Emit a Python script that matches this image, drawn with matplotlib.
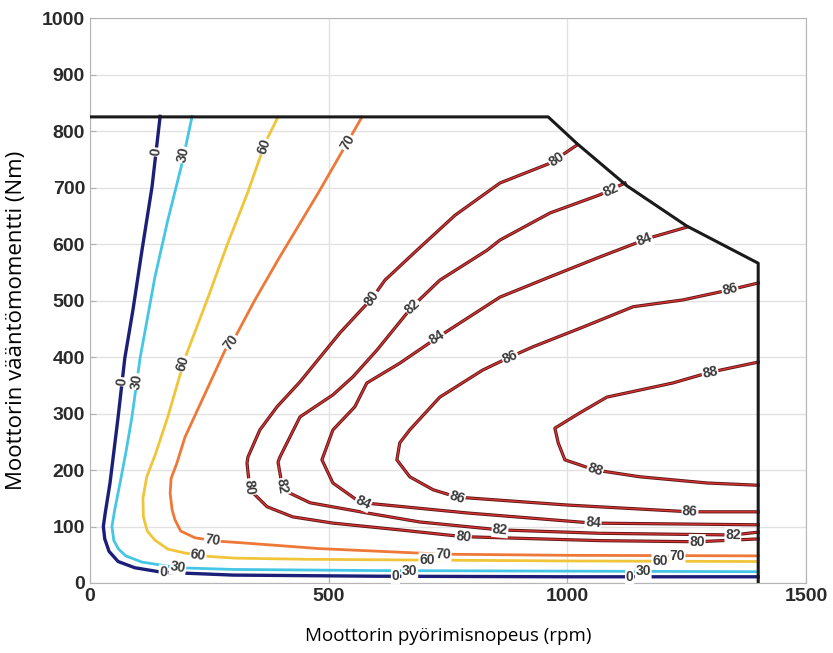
import numpy as np
import matplotlib.pyplot as plt

# operating limit (rpm, Nm)
limit_rpm = [0, 960, 1020, 1125, 1250, 1400, 1400]
limit_nm = [825, 825, 778, 703, 632, 566, 0]

# efficiency contour lines (rpm, Nm)
c0_rpm = [147, 130, 109, 90, 73, 59, 42, 32, 28, 31, 40, 59, 94, 151, 300, 600, 1000, 1400]
c0_nm = [826, 701, 589, 483, 398, 294, 177, 124, 100, 78, 56, 38, 27, 19, 14, 12, 11, 11]

c30_rpm = [214, 193, 163, 136, 105, 88, 75, 63, 52, 46, 50, 60, 75, 109, 184, 300, 600, 1000, 1400]
c30_nm = [826, 743, 642, 541, 398, 294, 230, 177, 130, 100, 75, 60, 48, 37, 27, 24, 22, 21, 20]

c60_rpm = [394, 367, 330, 289, 245, 199, 163, 138, 119, 111, 112, 120, 136, 163, 199, 250, 304,
           450, 618, 1000, 1400]
c60_nm = [825, 779, 690, 602, 500, 398, 294, 230, 188, 150, 117, 92, 76, 60, 53, 47, 44,
          42, 41, 39, 38]

c70_rpm = [570, 478, 394, 345, 304, 283, 235, 199, 182, 170, 168, 172, 178, 190, 220, 268, 304,
           400, 478, 740, 1000, 1400]
c70_nm = [825, 690, 572, 500, 435, 412, 324, 258, 212, 185, 159, 130, 112, 92, 80, 74, 72,
          66, 61, 51, 49, 48]

c80_rpm = [1020, 964, 859, 765, 685, 618, 591, 524, 440, 392, 356, 331, 329, 335, 371,
           425, 509, 649, 782, 1068, 1272, 1400]
c80_nm = [775, 743, 708, 651, 589, 536, 504, 443, 356, 312, 271, 223, 212, 165, 135,
          117, 106, 94, 82, 75, 73, 78]

c82_rpm = [1121, 1068, 964, 859, 832, 733, 675, 601, 551, 509, 440, 398, 394, 404, 461,
           580, 691, 859, 1068, 1347, 1400]
c82_nm = [708, 687, 655, 607, 589, 536, 489, 412, 365, 333, 294, 223, 214, 165, 142,
          124, 108, 94, 88, 85, 90]

c84_rpm = [1251, 1173, 1068, 964, 859, 727, 649, 580, 555, 509, 486, 509, 559, 572, 790,
           1054, 1400]
c84_nm = [630, 611, 577, 542, 506, 434, 389, 354, 312, 271, 218, 177, 147, 142, 124,
          106, 103]

c86_rpm = [1400, 1341, 1242, 1138, 1033, 928, 880, 823, 733, 670, 649, 643, 670, 719, 769,
           1000, 1257, 1400]
c86_nm = [531, 519, 501, 489, 453, 418, 400, 377, 329, 271, 248, 218, 188, 165, 152,
          138, 126, 126]

c88_rpm = [1400, 1299, 1221, 1083, 1026, 974, 981, 995, 1058, 1152, 1293, 1400]
c88_nm = [391, 373, 354, 329, 301, 274, 248, 218, 200, 188, 177, 173]

# label positions (approximate, snapped onto line)
lab0 = [(136, 763), (69, 356), (153, 11), (640, 12), (1131, 11)]
lab30 = [(199, 757), (101, 356), (184, 27), (670, 22), (1159, 20)]
lab60 = [(373, 770), (203, 386), (226, 46), (706, 41), (1194, 39)]
lab70 = [(541, 779), (298, 425), (256, 73), (740, 51), (1230, 49)]
lab80 = [(981, 745), (591, 504), (331, 170), (782, 82), (1272, 73)]
lab82 = [(1094, 690), (675, 490), (396, 170), (859, 94), (1347, 85)]
lab84 = [(1163, 604), (727, 434), (572, 142), (1054, 106)]
lab86 = [(1341, 519), (880, 400), (769, 152), (1257, 126)]
lab88 = [(1299, 373), (1058, 200)]

red = '#8e1c1c'
contours = [
    ('0', c0_rpm, c0_nm, '#1c1f78', lab0),
    ('30', c30_rpm, c30_nm, '#45c6e4', lab30),
    ('60', c60_rpm, c60_nm, '#f0c53a', lab60),
    ('70', c70_rpm, c70_nm, '#ee7838', lab70),
    ('80', c80_rpm, c80_nm, red, lab80),
    ('82', c82_rpm, c82_nm, red, lab82),
    ('84', c84_rpm, c84_nm, red, lab84),
    ('86', c86_rpm, c86_nm, red, lab86),
    ('88', c88_rpm, c88_nm, red, lab88),
]

fig = plt.figure(figsize=(8.33, 6.53), dpi=100)
ax = fig.add_axes([0.108, 0.1072, 0.8595, 0.8652])
ax.set_xlim(0, 1500)
ax.set_ylim(0, 1000)
ax.set_xticks([0, 500, 1000, 1500])
ax.set_yticks(range(0, 1001, 100))
ax.grid(True, color='#e2e2e2', lw=1)
ax.set_axisbelow(True)
for s in ax.spines.values():
    s.set_color('#b5b5b5')
ax.tick_params(direction='in', length=4, color='#b0b0b0', labelsize=14, labelcolor='#2a2a2a')
for t in ax.get_xticklabels() + ax.get_yticklabels():
    t.set_fontweight('bold')
    t.set_family('Liberation Sans')


def put_label(xs, ys, text, x0, y0):
    pts = ax.transData.transform(np.column_stack([xs, ys]))
    p = ax.transData.transform((x0, y0))
    best = None
    for i in range(len(pts) - 1):
        a, b = pts[i], pts[i + 1]
        d = b - a
        t = np.clip(np.dot(p - a, d) / np.dot(d, d), 0, 1)
        q = a + t * d
        dist = np.hypot(*(p - q))
        if best is None or dist < best[0]:
            best = (dist, q, d)
    _, q, d = best
    ang = np.degrees(np.arctan2(d[1], d[0]))
    if ang > 90:
        ang -= 180
    if ang < -90:
        ang += 180
    x, y = ax.transData.inverted().transform(q)
    ax.text(x, y, text, rotation=ang, rotation_mode='anchor', ha='center', va='center',
            fontsize=10, fontweight='bold', color='#3a3a3a', family='Liberation Sans',
            bbox=dict(boxstyle='square,pad=0.05', fc='white', ec='none'), zorder=5)


for name, xs, ys, col, labs in contours:
    if col == red:
        ax.plot(xs, ys, color='#5c1616', lw=2.3, zorder=3)
        ax.plot(xs, ys, color='#d83434', lw=1.0, zorder=3)
    elif name == '0':
        ax.plot(xs, ys, color=col, lw=2.4, zorder=3)
    else:
        ax.plot(xs, ys, color=col, lw=2.0, zorder=3)
    for (lx, ly) in labs:
        put_label(xs, ys, name, lx, ly)

ax.plot(limit_rpm, limit_nm, color='#1a1a1a', lw=2.2, zorder=4)

ax.set_xlabel('Moottorin pyörimisnopeus (rpm)', fontsize=13.5, family='Open Sans', labelpad=16)
ax.set_ylabel('Moottorin vääntömomentti (Nm)', fontsize=16, family='Open Sans')
ax.yaxis.set_label_coords(-0.088, 0.465)

fig.savefig('out.png', dpi=100)
